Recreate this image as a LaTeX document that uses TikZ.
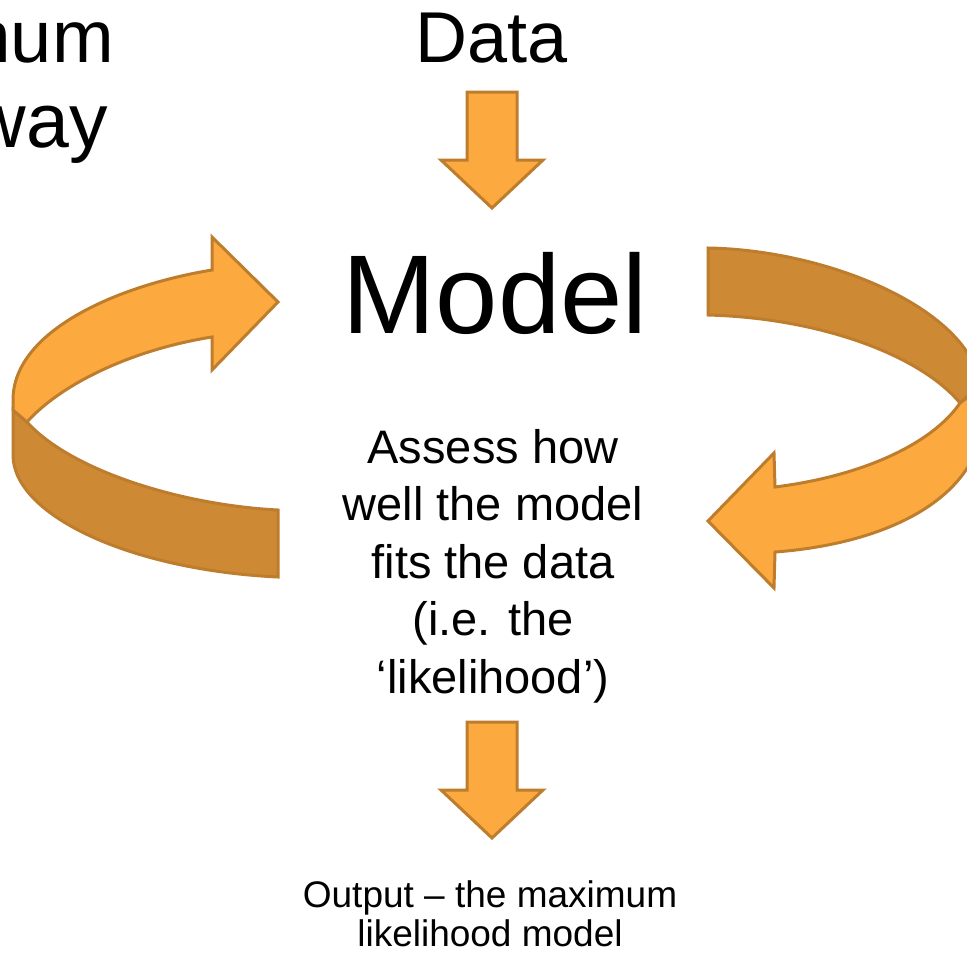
\documentclass[tikz,border=0pt]{standalone}
\usepackage{fontspec}
\setmainfont{Liberation Sans}
\definecolor{arrowlight}{RGB}{252,170,64}
\definecolor{arrowdark}{RGB}{205,137,52}
\definecolor{arrowedge}{RGB}{190,125,45}
\tikzset{
  lightpart/.style={fill=arrowlight, draw=arrowedge, line width=3pt},
  darkpart/.style={fill=arrowdark, draw=arrowedge, line width=3pt},
  words/.style={inner sep=0pt, align=center}
}
% straight block arrow pointing down: #1 = centre x, #2 = top y
\newcommand{\downblock}[2]{%
  \draw[lightpart] (#1-25,#2) -- (#1+25,#2) -- (#1+25,#2+68) -- (#1+51,#2+68)
    -- (#1,#2+116) -- (#1-51,#2+68) -- (#1-25,#2+68) -- cycle;}

\begin{document}
\begin{tikzpicture}[x=1pt, y=-1pt]
\useasboundingbox (0,0) rectangle (967,954);
\clip (0,0) rectangle (967,954);

% texts
\node[words, anchor=base east, font=\fontsize{74}{85}\selectfont] (title) at (114,62) {Maximum};
\node[words, anchor=base east, font=\fontsize{77}{85}\selectfont] (titleway) at (108,147) {way};
\node[words, anchor=base, font=\fontsize{72}{80}\selectfont] (data) at (492,62) {Data};
\node[words, anchor=base, font=\fontsize{112}{120}\selectfont] (model) at (495,333) {Model};
\node[words, font=\fontsize{47}{57.5}\selectfont] (assess) at (493,566)
  {Assess how\\well the model\\fits the data\\(i.e. the\\‘likelihood’)};
\node[words, font=\fontsize{37}{38.5}\selectfont] (output) at (490,914)
  {Output – the maximum\\likelihood model};

% straight arrows
\downblock{492}{92}
\downblock{492}{722}

% left loop arrow
\draw[darkpart] (13,410) -- (13,455) .. controls (13,515) and (130,570) .. (278,577)
  -- (278,510) .. controls (180,505) and (70,470) .. (27,422) -- cycle;
\draw[lightpart] (212,270) .. controls (120,285) and (13,330) .. (13,400) -- (13,410)
  -- (27,422) .. controls (60,385) and (130,350) .. (212,337)
  -- (212,370) -- (278,302) -- (212,237) -- cycle;

% right loop arrow
\draw[darkpart] (708,248) .. controls (830,250) and (970,310) .. (980,385)
  -- (960,403) .. controls (920,355) and (820,318) .. (708,315) -- cycle;
\draw[lightpart] (960,403) -- (980,388) -- (980,440)
  .. controls (960,510) and (870,545) .. (775,552)
  -- (774,588) -- (708,521) -- (774,453) -- (775,487)
  .. controls (870,475) and (935,440) .. (960,403) -- cycle;
\end{tikzpicture}
\end{document}
